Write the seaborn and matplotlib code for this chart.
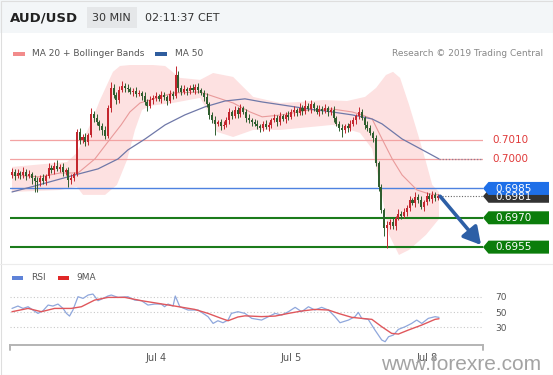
import numpy as np
import pandas as pd
import matplotlib
matplotlib.use("Agg")
import matplotlib.pyplot as plt
import seaborn as sns
from matplotlib.patches import Rectangle, Polygon
from matplotlib.lines import Line2D

sns.set_theme(style="white")
plt.rcParams["font.family"] = ["DejaVu Sans"]

W, H = 553, 375

# ---------------- data ----------------
first_open = 0.69920
close = [
    0.69934, 0.69914, 0.69929, 0.69919, 0.69934, 0.69914, 0.69924, 0.69904, 0.69888, 0.69883,
    0.69904, 0.69888, 0.69914, 0.69955, 0.69945, 0.69965, 0.69950, 0.69960, 0.69934, 0.69945,
    0.69894, 0.69904, 0.69924, 0.70139, 0.70098, 0.70113, 0.70088, 0.70124, 0.70231, 0.70210,
    0.70190, 0.70170, 0.70149, 0.70118, 0.70262, 0.70364, 0.70328, 0.70302, 0.70354, 0.70374,
    0.70364, 0.70359, 0.70343, 0.70349, 0.70333, 0.70338, 0.70323, 0.70292, 0.70272, 0.70302,
    0.70313, 0.70323, 0.70308, 0.70328, 0.70318, 0.70297, 0.70333, 0.70323, 0.70430, 0.70364,
    0.70343, 0.70359, 0.70349, 0.70364, 0.70354, 0.70369, 0.70354, 0.70338, 0.70318, 0.70282,
    0.70226, 0.70200, 0.70180, 0.70190, 0.70170, 0.70175, 0.70200, 0.70241, 0.70221, 0.70251,
    0.70231, 0.70262, 0.70241, 0.70210, 0.70200, 0.70190, 0.70180, 0.70170, 0.70159, 0.70180,
    0.70164, 0.70175, 0.70200, 0.70210, 0.70190, 0.70221, 0.70205, 0.70226, 0.70216, 0.70241,
    0.70251, 0.70236, 0.70262, 0.70246, 0.70272, 0.70256, 0.70282, 0.70262, 0.70241, 0.70256,
    0.70246, 0.70262, 0.70241, 0.70251, 0.70210, 0.70180, 0.70159, 0.70149, 0.70170, 0.70159,
    0.70180, 0.70200, 0.70221, 0.70241, 0.70210, 0.70175, 0.70159, 0.70134, 0.70108, 0.69980,
    0.69858, 0.69740, 0.69648, 0.69663, 0.69679, 0.69658, 0.69699, 0.69720, 0.69709, 0.69730,
    0.69750, 0.69791, 0.69776, 0.69807, 0.69791, 0.69755, 0.69781, 0.69812, 0.69796, 0.69817,
    0.69802, 0.69810,
]
wick_up_pips = [
    2, 1.5, 2, 1, 2.5, 1.5, 2, 1, 1.5, 2,
    1.5, 2, 1, 2.5, 1.5, 2, 3, 1.5, 2, 1,
    1.5, 2, 1, 1.5, 2, 1.5, 2, 1, 3, 1.5,
    2, 1, 1.5, 2, 1.5, 3, 2, 1.5, 2, 2.5,
    1.5, 2, 1, 1.5, 2, 1.5, 1, 2, 1.5, 2,
    1.5, 2, 1, 2, 1.5, 1, 2, 1.5, 4.5, 2,
    1.5, 2, 1, 1.5, 2, 1.5, 2, 1, 1.5, 2,
    1, 1.5, 2, 1, 1.5, 2, 1.5, 2, 1, 2,
    1.5, 2, 1, 1.5, 2, 1, 1.5, 2, 1, 1.5,
    2, 1.5, 1, 2, 1.5, 2, 1, 1.5, 2, 1.5,
    2, 1, 2.5, 1.5, 3, 1.5, 2, 1, 1.5, 2,
    1.5, 2, 1, 1.5, 2, 1, 1.5, 2, 1, 1.5,
    2, 1.5, 1, 2.5, 1.5, 1, 2, 1.5, 1, 1.5,
    1, 1.5, 1, 2, 1.5, 2, 1, 2.5, 1.5, 2,
    1.5, 2, 1, 2.5, 1.5, 2, 1, 2, 1.5, 2,
    1.5, 1,
]
wick_dn_pips = [
    1.5, 2, 1, 2, 1.5, 2, 1, 3, 5.5, 5,
    2, 1.5, 2, 1, 1.5, 2, 1, 1.5, 2, 1.5,
    3.5, 2, 1.5, 1, 2, 1.5, 2, 1.5, 1, 2,
    1.5, 2, 2.5, 1.5, 1, 2, 1.5, 2, 1.5, 1,
    2, 1.5, 1, 2, 1.5, 1, 2, 1.5, 2.5, 1,
    2, 1.5, 1, 2, 1.5, 2, 1, 1.5, 1, 2,
    1.5, 1, 2, 1.5, 1, 2, 1.5, 1, 2, 1.5,
    2, 1.5, 5.5, 1, 2, 1.5, 1, 2, 1.5, 1,
    2, 1.5, 1, 2, 1.5, 2, 1, 1.5, 2, 1.5,
    1, 2, 1.5, 1, 2, 1.5, 1, 2, 1.5, 1,
    2, 1.5, 1, 2, 1.5, 1, 2, 1.5, 1, 2,
    1.5, 1, 2, 1.5, 2, 1, 1.5, 3.5, 1.5, 2,
    1.5, 1, 2, 1.5, 1, 2, 1.5, 1, 2, 1.5,
    2, 1.5, 4, 10, 2, 1.5, 2, 1, 1.5, 1,
    2, 1.5, 1, 2, 1.5, 1, 2, 1.5, 1, 2,
    1.5, 1,
]

ma20_idx = [0, 9.9, 17, 23.4, 29.4, 34, 38.7, 41.8, 45.4, 57.1, 66.7, 78.4, 84.4, 88.7, 95.7,
            105.3, 113.5, 120.6, 124.1, 127.7, 131.2, 134.8, 138.3, 143.6, 147.9, 151.4]
ma20_val = [0.69919, 0.69909, 0.69929, 0.69929, 0.70001, 0.70088, 0.70175, 0.70241, 0.70287,
            0.70338, 0.70343, 0.70287, 0.70241, 0.70216, 0.70226, 0.70251, 0.70256, 0.70241,
            0.70226, 0.70205, 0.70103, 0.70001, 0.69919, 0.69842, 0.69822, 0.69817]

ma50_idx = [0, 8.2, 22.3, 30.5, 37.6, 41.1, 47.2, 54.3, 61.3, 68.4, 75.5, 82.6, 88.7, 95.7,
            105.3, 113.5, 120.6, 124.1, 127.7, 131.2, 138.3, 146.8, 151.4]
ma50_val = [0.69832, 0.69863, 0.69919, 0.69950, 0.70001, 0.70047, 0.70103, 0.70175, 0.70226,
            0.70267, 0.70297, 0.70308, 0.70292, 0.70277, 0.70256, 0.70241, 0.70226, 0.70216,
            0.70205, 0.70180, 0.70103, 0.70037, 0.70001]

bb_up_idx = [0, 19.5, 23, 27.7, 31.2, 35.8, 38.3, 45.4, 54.3, 59.6, 66.7, 71.3, 78.4, 85.5,
             95, 102.1, 110.3, 118.8, 125.2, 129.1, 132.6, 135.1, 137.6, 140.8, 144, 146.8,
             149, 151.4]
bb_up_val = [0.69960, 0.69985, 0.70032, 0.70175, 0.70302, 0.70446, 0.70476, 0.70486, 0.70476,
             0.70415, 0.70405, 0.70440, 0.70420, 0.70318, 0.70287, 0.70292, 0.70302, 0.70297,
             0.70318, 0.70364, 0.70430, 0.70446, 0.70415, 0.70277, 0.70124, 0.69985, 0.69868,
             0.69832]
bb_lo_idx = [0, 17, 23, 25.2, 33, 37.2, 40.8, 43.6, 46.1, 48.9, 57.1, 66.7, 70.2, 72.7, 78.4,
             85.5, 95, 113.8, 123.4, 127.7, 131.2, 133.7, 137.2, 140.8, 146.8, 151.4]
bb_lo_val = [0.69832, 0.69842, 0.69858, 0.69817, 0.69817, 0.69868, 0.69996, 0.70149, 0.70251,
             0.70272, 0.70287, 0.70313, 0.70226, 0.70139, 0.70113, 0.70149, 0.70149, 0.70175,
             0.70134, 0.70052, 0.69817, 0.69613, 0.69510, 0.69536, 0.69613, 0.69694]

rsi_idx = [0, 2.1, 3.9, 5.7, 7.4, 9.2, 11.0, 12.8, 14.5, 16.3, 18.1, 19.3, 20.4, 21.6, 23.4,
           25.2, 27.0, 28.7, 30.5, 32.3, 34.0, 35.2, 37.6, 41.1, 43.5, 45.9, 48.2, 50.6, 52.9,
           54.1, 55.3, 57.1, 57.9, 59.5, 62.4, 66.0, 69.5, 71.3, 73.0, 74.8, 76.6, 77.8, 80.1,
           82.6, 85.0, 88.5, 90.9, 93.3, 95.6, 98.0, 100.4, 102.7, 105.1, 107.4, 109.8, 112.2,
           114.5, 116.3, 119.3, 121.6, 122.8, 124.0, 126.3, 128.7, 131.1, 132.3, 133.5, 135.2,
           137.0, 139.4, 141.7, 143.5, 145.3, 147.6, 150.0, 151.4]
rsi_val = [54.7, 57.8, 54.7, 56.9, 52.6, 48.2, 51.7, 59.1, 57.8, 60.4, 54.7, 48.2, 44.7, 52.6,
           70.0, 67.8, 72.2, 73.5, 64.8, 67.8, 70.9, 72.2, 69.1, 70.0, 65.6, 64.8, 59.1, 60.4,
           60.4, 56.9, 60.4, 57.8, 70.9, 56.9, 52.6, 52.6, 43.9, 35.1, 38.6, 36.0, 39.5, 48.2,
           50.4, 48.2, 41.7, 39.5, 43.9, 48.2, 46.0, 50.4, 56.1, 50.4, 56.9, 52.6, 56.1, 52.6,
           43.9, 36.0, 39.5, 43.9, 49.5, 41.7, 40.4, 26.4, 13.4, 11.2, 17.7, 19.9, 27.3, 30.8,
           35.1, 39.5, 35.1, 41.7, 43.9, 43.0]
rsi_ma_idx = [0, 5.7, 10.4, 15.1, 21.0, 24.6, 29.3, 34.0, 40.0, 45.9, 51.8, 57.7, 64.8, 69.5,
              74.2, 76.6, 80.1, 82.6, 88.5, 93.3, 98.0, 102.7, 107.4, 112.2, 115.7, 120.5,
              124.0, 127.6, 131.1, 134.6, 137.0, 140.5, 145.3, 150.0, 151.4]
rsi_ma_val = [50.4, 54.7, 50.4, 54.7, 54.7, 56.9, 65.6, 69.1, 69.1, 64.8, 61.3, 57.8, 53.4,
              48.2, 41.7, 38.6, 43.5, 45.0, 44.0, 44.7, 48.2, 51.3, 53.4, 52.6, 48.2, 43.0,
              41.7, 40.4, 30.8, 22.1, 21.2, 26.4, 33.0, 40.4, 41.2]

levels_red = [0.7010, 0.7000]
level_blue = 0.6985
levels_green = [0.6970, 0.6955]
day_ticks = [51, 99, 147]
day_labels = ["Jul 4", "Jul 5", "Jul 8"]
rsi_levels = [30, 50, 70]
arrow_target = (166.3, 0.69561)

# ---------------- styling ----------------
UP, DN = "#c3262e", "#2f5e2f"
XLIM = (-0.71, 167.0)

fig = plt.figure(figsize=(W / 100, H / 100), dpi=100)
fig.patch.set_facecolor("white")

ax = fig.add_axes([10 / W, 1 - 262 / H, 473 / W, 197 / H])
axr = fig.add_axes([10 / W, 1 - 345 / H, 473 / W, 60 / H])
for a in (ax, axr):
    a.set_facecolor("none")
    for s in a.spines.values():
        s.set_visible(False)
    a.set_xlim(*XLIM)
ax.set_ylim(0.69474, 0.70481)
axr.set_ylim(6.9, 85.3)
ax.set_xticks([])
ax.set_yticks([])

# Bollinger band fill
poly_x = np.r_[bb_up_idx, bb_lo_idx[::-1]]
poly_y = np.r_[bb_up_val, bb_lo_val[::-1]]
ax.fill(poly_x, poly_y, color="#fde1e1", lw=0, zorder=0)

# horizontal levels
for lv in levels_red:
    ax.axhline(lv, color="#f3a3a3", lw=0.9, zorder=1)
ax.axhline(level_blue, color="#4d82e0", lw=1.0, zorder=1)
for lv in levels_green:
    ax.axhline(lv, color="#1b7b1b", lw=1.5, zorder=1)

# moving averages
sns.lineplot(x=ma20_idx, y=ma20_val, ax=ax, color="#e99a9a", lw=0.8,
             estimator=None, sort=False, legend=False, zorder=2)
sns.lineplot(x=ma50_idx, y=ma50_val, ax=ax, color="#6f78a8", lw=0.9,
             estimator=None, sort=False, legend=False, zorder=2)

# candles
c = np.array(close)
n = len(c)
idx = np.arange(n)
o = np.r_[first_open, c[:-1]]
hi = np.maximum(o, c) + np.array(wick_up_pips) * 1e-4
lo = np.minimum(o, c) - np.array(wick_dn_pips) * 1e-4
col = np.where(c >= o, UP, DN)
ax.vlines(idx, lo, hi, colors=col, lw=0.7, zorder=3)
ax.bar(idx, np.maximum(np.abs(c - o), 0.00002), bottom=np.minimum(o, c), width=0.72,
       color=col, lw=0, zorder=4)

# current price / MA50 dotted markers
ax.hlines(c[-1], n + 0.6, XLIM[1], colors="#666666", lw=0.8, linestyles=(0, (1, 1.5)), zorder=2)
ax.hlines(ma50_val[-1], ma50_idx[-1], XLIM[1], colors="#8c7f95", lw=0.9,
          linestyles=(0, (1, 1.5)), zorder=2)

# arrow
ax.annotate("", xy=arrow_target, xytext=(n - 0.2, c[-1]),
            arrowprops=dict(arrowstyle="-|>,head_length=0.8,head_width=0.45",
                            color="#2d5fa6", lw=2.6, mutation_scale=13,
                            shrinkA=0, shrinkB=0),
            annotation_clip=False, zorder=6)

# ---------------- RSI panel ----------------
for lv in rsi_levels:
    axr.axhline(lv, color="#c9c9c9", lw=0.8, ls=(0, (1, 2)), zorder=0)
sns.lineplot(x=rsi_idx, y=rsi_val, ax=axr, color="#8fa7dc", lw=0.9,
             estimator=None, sort=False, legend=False, zorder=2)
sns.lineplot(x=rsi_ma_idx, y=rsi_ma_val, ax=axr, color="#e0575c", lw=1.0,
             estimator=None, sort=False, legend=False, zorder=3)
axr.spines["bottom"].set_visible(True)
axr.spines["bottom"].set_color("#b4b4b4")
axr.spines["bottom"].set_linewidth(1.4)
for xe in (0, 1):
    axr.add_line(Line2D([xe, xe], [0, -0.09], transform=axr.transAxes, color="#b4b4b4",
                        lw=1.4, clip_on=False))
axr.set_xticks(day_ticks)
axr.set_xticklabels(day_labels)
axr.tick_params(axis="x", length=0, labelsize=7, colors="#555555", pad=6)
axr.yaxis.tick_right()
axr.set_yticks(rsi_levels)
axr.set_yticklabels([str(v) for v in rsi_levels])
axr.tick_params(axis="y", length=0, labelsize=6.5, colors="#555555", pad=9)
axr.set_xlabel("")
axr.set_ylabel("")
ax.set_xlabel("")
ax.set_ylabel("")

# ---------------- overlay (pixel coordinates) ----------------
ov = fig.add_axes([0, 0, 1, 1], zorder=10)
ov.set_xlim(0, W)
ov.set_ylim(H, 0)
ov.axis("off")
ov.patch.set_visible(False)


def ypx(level):
    return H - ax.transData.transform((0, level))[1]


# header
ov.add_patch(Rectangle((0, 0), W, 33, color="#f3f6f8", lw=0))
ov.add_patch(Rectangle((87, 7), 50, 21, color="#e5e7e9", lw=0))
ov.text(10, 18, "AUD/USD", fontsize=9.5, fontweight="bold", color="#222222", va="center")
ov.text(92, 18, "30 MIN", fontsize=8, color="#333333", va="center")
ov.text(145, 18, "02:11:37 CET", fontsize=8, color="#333333", va="center")

# legends
ov.add_patch(Rectangle((13, 51.5), 12, 4, color="#f28b8b", lw=0))
ov.text(32, 53.5, "MA 20 + Bollinger Bands", fontsize=6.5, color="#555555", va="center")
ov.add_patch(Rectangle((155, 51.5), 12, 4, color="#2f5d9e", lw=0))
ov.text(175, 53.5, "MA 50", fontsize=6.5, color="#555555", va="center")
ov.text(543, 53.5, "Research \u00a9 2019 Trading Central", fontsize=6.5, color="#888888",
        va="center", ha="right")
ov.add_patch(Rectangle((12, 276), 11, 4, color="#5f83d8", lw=0))
ov.text(31, 278, "RSI", fontsize=6.5, color="#555555", va="center")
ov.add_patch(Rectangle((58, 276), 11, 4, color="#e02828", lw=0))
ov.text(76, 278, "9MA", fontsize=6.5, color="#555555", va="center")

# red level labels
for lv in levels_red:
    ov.text(492, ypx(lv), f"{lv:.4f}", fontsize=7.5, color="#e03a3a", va="center")


def tag(level, color, text):
    yc = ypx(level)
    h = 6.5
    ov.add_patch(Polygon([(483, yc), (488.5, yc - h), (549, yc - h), (549, yc + h),
                          (488.5, yc + h)], closed=True, color=color, lw=0))
    ov.text(495, yc + 0.3, text, fontsize=7.5, color="white", va="center")


tag(c[-1], "#333333", f"{c[-1]:.4f}")
tag(level_blue, "#1e6fe8", f"{level_blue:.4f}")
for lv in levels_green:
    tag(lv, "#0b7d0b", f"{lv:.4f}")

# separators / frame
ov.add_line(Line2D([0, W], [263.5, 263.5], color="#ececec", lw=0.8))
ov.add_patch(Rectangle((0.5, 0.5), W - 1, H - 1, fill=False, ec="#dedede", lw=0.8))

# watermark
ov.text(461, 364, "www.forexre.com", fontsize=15, color="#a3a3a3", ha="center", va="center",
        family=["Liberation Sans", "DejaVu Sans"])

fig.savefig("out.png", dpi=100, facecolor="white")
